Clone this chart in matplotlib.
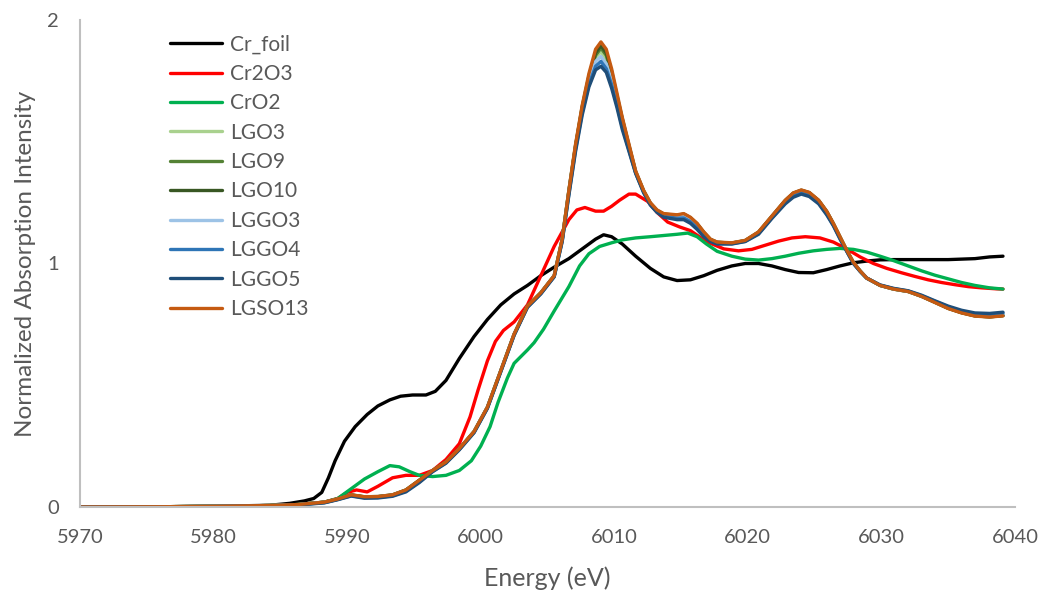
import matplotlib
matplotlib.use("Agg")
from matplotlib import pyplot as plt

FONT = "Lato"
TEXT_COLOR = "#595959"
AXIS_COLOR = "#bfbfbf"

# energy grid shared by the sample spectra (eV)
E_SAMPLE = [5970, 5976.1, 5980.2, 5984.2, 5986.3, 5988.3, 5989.3, 5990.3, 5991.3, 5992.3,
            5993.4, 5994.4, 5995.4, 5996.4, 5997.4, 5998.4, 5999.5, 6000.5, 6001.5, 6002.5,
            6003.5, 6004.5, 6005.5, 6006.1, 6006.6, 6007.1, 6007.6, 6008.1, 6008.6, 6009.0,
            6009.4, 6009.8, 6010.2, 6010.6, 6011.1, 6011.6, 6012.2, 6012.7, 6013.2, 6013.7,
            6014.7, 6015.2, 6015.7, 6016.2, 6016.7, 6017.2, 6017.7, 6018.8, 6019.8, 6020.8,
            6021.8, 6022.8, 6023.4, 6024.0, 6024.6, 6025.3, 6025.9, 6026.4, 6026.9, 6027.4,
            6027.9, 6028.4, 6028.9, 6029.9, 6030.9, 6032.0, 6033.0, 6034.0, 6035.0, 6036.0,
            6037.0, 6038.1, 6039.1]

# references
E_CR_FOIL = [5970, 5976.1, 5980.2, 5984.2, 5985.7, 5986.8, 5987.5, 5988.1, 5988.6, 5989.1,
             5989.8, 5990.6, 5991.5, 5992.3, 5993.2, 5994.0, 5994.9, 5995.9, 5996.6, 5997.4,
             5998.4, 5999.5, 6000.5, 6001.5, 6002.5, 6003.5, 6004.5, 6005.5, 6006.6, 6007.6,
             6008.6, 6009.2, 6009.8, 6010.6, 6011.6, 6012.7, 6013.7, 6014.7, 6015.7, 6016.7,
             6017.7, 6018.8, 6019.8, 6020.8, 6021.8, 6022.8, 6023.8, 6024.9, 6025.9, 6026.9,
             6027.9, 6028.9, 6029.9, 6030.9, 6033.0, 6035.0, 6037.0, 6038.1, 6039.1]
CR_FOIL = [0.000, 0.001, 0.003, 0.007, 0.015, 0.025, 0.035, 0.060, 0.120, 0.190,
           0.270, 0.330, 0.380, 0.415, 0.440, 0.455, 0.460, 0.460, 0.475, 0.520,
           0.610, 0.700, 0.770, 0.830, 0.875, 0.910, 0.950, 0.985, 1.020, 1.060,
           1.100, 1.118, 1.110, 1.080, 1.030, 0.980, 0.945, 0.930, 0.933, 0.950,
           0.972, 0.990, 1.000, 1.000, 0.990, 0.975, 0.963, 0.962, 0.975, 0.990,
           1.003, 1.010, 1.015, 1.016, 1.016, 1.016, 1.020, 1.027, 1.030]

E_CR2O3 = [5970, 5976.1, 5980.2, 5984.2, 5986.3, 5988.3, 5989.3, 5990.0, 5990.7, 5991.5,
           5992.3, 5993.4, 5994.4, 5995.4, 5996.4, 5997.4, 5998.4, 5999.2, 5999.8, 6000.5,
           6001.1, 6001.7, 6002.5, 6003.5, 6004.5, 6005.5, 6006.6, 6007.2, 6007.8, 6008.6,
           6009.2, 6009.8, 6010.4, 6011.1, 6011.6, 6012.5, 6013.2, 6014.0, 6014.9, 6015.7,
           6016.9, 6018.2, 6019.3, 6020.3, 6021.3, 6022.3, 6023.3, 6024.3, 6025.4, 6026.4,
           6027.4, 6028.4, 6029.4, 6030.4, 6031.5, 6032.5, 6033.5, 6034.5, 6035.5, 6036.5,
           6037.5, 6038.6, 6039.1]
CR2O3 = [0.000, 0.001, 0.003, 0.006, 0.010, 0.020, 0.035, 0.060, 0.070, 0.062,
         0.085, 0.120, 0.130, 0.130, 0.150, 0.195, 0.260, 0.370, 0.480, 0.600,
         0.680, 0.725, 0.760, 0.830, 0.950, 1.070, 1.180, 1.220, 1.230, 1.215,
         1.215, 1.235, 1.260, 1.285, 1.285, 1.255, 1.210, 1.170, 1.150, 1.135,
         1.090, 1.060, 1.052, 1.058, 1.075, 1.092, 1.105, 1.110, 1.105, 1.088,
         1.060, 1.027, 1.000, 0.980, 0.962, 0.947, 0.933, 0.922, 0.913, 0.905,
         0.900, 0.896, 0.895]

E_CRO2 = [5970, 5976.1, 5980.2, 5984.2, 5986.3, 5988.3, 5989.3, 5990.3, 5991.3, 5992.3,
          5993.2, 5993.9, 5994.7, 5995.4, 5996.4, 5997.4, 5998.4, 5999.3, 6000.0, 6000.7,
          6001.3, 6002.0, 6002.5, 6003.5, 6004.0, 6004.7, 6005.5, 6006.6, 6007.4, 6008.1,
          6008.9, 6009.8, 6010.6, 6011.6, 6012.7, 6013.7, 6014.7, 6015.5, 6016.2, 6016.9,
          6017.7, 6018.8, 6019.8, 6020.8, 6021.8, 6022.8, 6023.8, 6024.9, 6025.9, 6026.9,
          6027.9, 6028.9, 6029.9, 6030.9, 6032.0, 6033.0, 6034.0, 6035.0, 6036.0, 6037.0,
          6038.1, 6039.1]
CRO2 = [0.000, 0.001, 0.003, 0.006, 0.010, 0.020, 0.035, 0.075, 0.115, 0.145,
        0.170, 0.165, 0.145, 0.130, 0.125, 0.130, 0.150, 0.190, 0.250, 0.330,
        0.430, 0.530, 0.590, 0.645, 0.675, 0.730, 0.805, 0.905, 0.990, 1.040,
        1.070, 1.085, 1.097, 1.105, 1.110, 1.115, 1.120, 1.125, 1.110, 1.080,
        1.050, 1.030, 1.018, 1.014, 1.020, 1.030, 1.042, 1.052, 1.058, 1.062,
        1.058, 1.047, 1.030, 1.012, 0.990, 0.970, 0.952, 0.937, 0.922, 0.910,
        0.900, 0.895]

# samples (on E_SAMPLE)
LGO3 = [0.000, 0.001, 0.003, 0.006, 0.010, 0.019, 0.032, 0.049, 0.041, 0.042,
        0.049, 0.069, 0.108, 0.149, 0.184, 0.239, 0.309, 0.409, 0.558, 0.708,
        0.824, 0.879, 0.949, 1.098, 1.295, 1.480, 1.635, 1.755, 1.845, 1.870,
        1.840, 1.770, 1.675, 1.580, 1.475, 1.372, 1.295, 1.246, 1.216, 1.201,
        1.196, 1.200, 1.186, 1.161, 1.126, 1.097, 1.086, 1.083, 1.093, 1.127,
        1.191, 1.256, 1.286, 1.298, 1.288, 1.256, 1.211, 1.161, 1.107, 1.053,
        1.003, 0.969, 0.940, 0.910, 0.896, 0.886, 0.866, 0.842, 0.817, 0.799,
        0.787, 0.783, 0.788]
LGO9 = [0.000, 0.001, 0.003, 0.006, 0.010, 0.019, 0.032, 0.049, 0.041, 0.042,
        0.049, 0.069, 0.109, 0.149, 0.184, 0.239, 0.309, 0.409, 0.559, 0.709,
        0.824, 0.879, 0.949, 1.099, 1.297, 1.482, 1.640, 1.765, 1.855, 1.885,
        1.855, 1.780, 1.685, 1.590, 1.480, 1.375, 1.297, 1.247, 1.217, 1.202,
        1.197, 1.202, 1.187, 1.162, 1.127, 1.098, 1.087, 1.084, 1.094, 1.128,
        1.193, 1.258, 1.288, 1.300, 1.290, 1.258, 1.213, 1.163, 1.108, 1.054,
        1.004, 0.969, 0.940, 0.910, 0.895, 0.885, 0.866, 0.841, 0.816, 0.798,
        0.785, 0.781, 0.786]
LGO10 = [0.000, 0.001, 0.003, 0.006, 0.010, 0.020, 0.033, 0.050, 0.042, 0.043,
         0.050, 0.070, 0.110, 0.150, 0.185, 0.240, 0.310, 0.410, 0.560, 0.710,
         0.825, 0.880, 0.950, 1.100, 1.300, 1.485, 1.645, 1.770, 1.865, 1.895,
         1.865, 1.790, 1.690, 1.595, 1.485, 1.378, 1.298, 1.248, 1.218, 1.203,
         1.198, 1.203, 1.188, 1.163, 1.128, 1.099, 1.087, 1.084, 1.094, 1.129,
         1.194, 1.259, 1.289, 1.301, 1.291, 1.259, 1.214, 1.164, 1.109, 1.054,
         1.004, 0.970, 0.940, 0.910, 0.895, 0.885, 0.865, 0.841, 0.816, 0.798,
         0.785, 0.781, 0.786]
LGGO3 = [0.000, 0.001, 0.003, 0.006, 0.009, 0.019, 0.032, 0.048, 0.040, 0.041,
         0.048, 0.067, 0.106, 0.148, 0.183, 0.238, 0.308, 0.408, 0.558, 0.708,
         0.823, 0.878, 0.948, 1.095, 1.290, 1.475, 1.630, 1.745, 1.830, 1.850,
         1.820, 1.750, 1.660, 1.570, 1.470, 1.374, 1.295, 1.245, 1.215, 1.198,
         1.192, 1.195, 1.180, 1.155, 1.122, 1.095, 1.085, 1.083, 1.093, 1.126,
         1.190, 1.254, 1.283, 1.295, 1.285, 1.254, 1.209, 1.160, 1.106, 1.053,
         1.003, 0.969, 0.940, 0.911, 0.896, 0.886, 0.867, 0.843, 0.819, 0.801,
         0.789, 0.786, 0.791]
LGGO4 = [0.000, 0.001, 0.002, 0.005, 0.009, 0.018, 0.031, 0.046, 0.038, 0.039,
         0.046, 0.065, 0.103, 0.146, 0.181, 0.236, 0.306, 0.406, 0.556, 0.706,
         0.821, 0.876, 0.946, 1.092, 1.285, 1.468, 1.620, 1.735, 1.810, 1.830,
         1.800, 1.735, 1.650, 1.560, 1.465, 1.372, 1.292, 1.242, 1.212, 1.194,
         1.186, 1.187, 1.172, 1.147, 1.116, 1.092, 1.082, 1.081, 1.091, 1.123,
         1.187, 1.249, 1.278, 1.290, 1.280, 1.249, 1.204, 1.157, 1.103, 1.051,
         1.001, 0.968, 0.940, 0.911, 0.897, 0.887, 0.868, 0.845, 0.822, 0.804,
         0.793, 0.791, 0.796]
LGGO5 = [0.000, 0.001, 0.002, 0.005, 0.008, 0.017, 0.030, 0.045, 0.036, 0.037,
         0.044, 0.062, 0.100, 0.145, 0.180, 0.235, 0.305, 0.405, 0.555, 0.705,
         0.820, 0.875, 0.945, 1.090, 1.280, 1.460, 1.610, 1.725, 1.795, 1.810,
         1.785, 1.720, 1.640, 1.550, 1.460, 1.370, 1.290, 1.240, 1.210, 1.190,
         1.180, 1.180, 1.165, 1.140, 1.110, 1.090, 1.080, 1.080, 1.090, 1.120,
         1.185, 1.245, 1.272, 1.285, 1.275, 1.245, 1.200, 1.155, 1.100, 1.050,
         1.000, 0.968, 0.940, 0.912, 0.898, 0.888, 0.870, 0.847, 0.825, 0.808,
         0.797, 0.795, 0.800]
LGSO13 = [0.000, 0.001, 0.003, 0.006, 0.010, 0.020, 0.033, 0.050, 0.042, 0.043,
          0.050, 0.070, 0.110, 0.150, 0.185, 0.240, 0.310, 0.410, 0.560, 0.710,
          0.825, 0.880, 0.950, 1.100, 1.300, 1.490, 1.650, 1.780, 1.880, 1.910,
          1.880, 1.800, 1.700, 1.600, 1.490, 1.380, 1.300, 1.250, 1.220, 1.205,
          1.200, 1.205, 1.190, 1.165, 1.130, 1.100, 1.088, 1.085, 1.095, 1.130,
          1.195, 1.260, 1.290, 1.302, 1.292, 1.260, 1.215, 1.165, 1.110, 1.055,
          1.005, 0.970, 0.940, 0.910, 0.895, 0.885, 0.865, 0.840, 0.815, 0.797,
          0.784, 0.780, 0.785]

SERIES = [
    ("Cr_foil", E_CR_FOIL, CR_FOIL, "#000000"),
    ("Cr2O3", E_CR2O3, CR2O3, "#ff0000"),
    ("CrO2", E_CRO2, CRO2, "#00b050"),
    ("LGO3", E_SAMPLE, LGO3, "#a9d18e"),
    ("LGO9", E_SAMPLE, LGO9, "#548235"),
    ("LGO10", E_SAMPLE, LGO10, "#385723"),
    ("LGGO3", E_SAMPLE, LGGO3, "#9dc3e6"),
    ("LGGO4", E_SAMPLE, LGGO4, "#2e75b6"),
    ("LGGO5", E_SAMPLE, LGGO5, "#1f4e79"),
    ("LGSO13", E_SAMPLE, LGSO13, "#c55a11"),
]

X_TICKS = [5970, 5980, 5990, 6000, 6010, 6020, 6030, 6040]
Y_TICKS = [0, 1, 2]


def main():
    plt.rcParams['font.family'] = [FONT, 'DejaVu Sans']
    fig = plt.figure(figsize=(10.41, 5.91), dpi=100)
    ax = fig.add_axes([80 / 1041, 84 / 591, 935 / 1041, 487 / 591])

    for name, x, y, color in SERIES:
        ax.plot(x, y, color=color, lw=2.4, label=name,
                solid_joinstyle="round", solid_capstyle="round")

    ax.set_xlim(5970, 6040)
    ax.set_ylim(0, 2)
    ax.set_xticks(X_TICKS)
    ax.set_yticks(Y_TICKS)
    ax.tick_params(length=0, labelsize=14.5, colors=TEXT_COLOR)
    ax.tick_params(axis="x", pad=16)
    ax.tick_params(axis="y", pad=15)

    for side in ["top", "right"]:
        ax.spines[side].set_visible(False)
    for side in ["left", "bottom"]:
        ax.spines[side].set_color(AXIS_COLOR)
        ax.spines[side].set_linewidth(1.5)

    ax.set_xlabel("Energy (eV)", fontsize=18, color=TEXT_COLOR)
    ax.set_ylabel("Normalized Absorption Intensity", fontsize=17.5, color=TEXT_COLOR)
    ax.xaxis.set_label_coords(0.5, -0.122)
    ax.yaxis.set_label_coords(-0.047, 0.5)

    leg = ax.legend(loc="upper left", bbox_to_anchor=(0.096, 0.97), frameon=False,
                    fontsize=15, handlelength=2.5, handletextpad=0.4,
                    labelspacing=0.45, borderaxespad=0, borderpad=0)
    for text in leg.get_texts():
        text.set_color(TEXT_COLOR)

    fig.savefig("out.png", dpi=100)


if __name__ == "__main__":
    main()
